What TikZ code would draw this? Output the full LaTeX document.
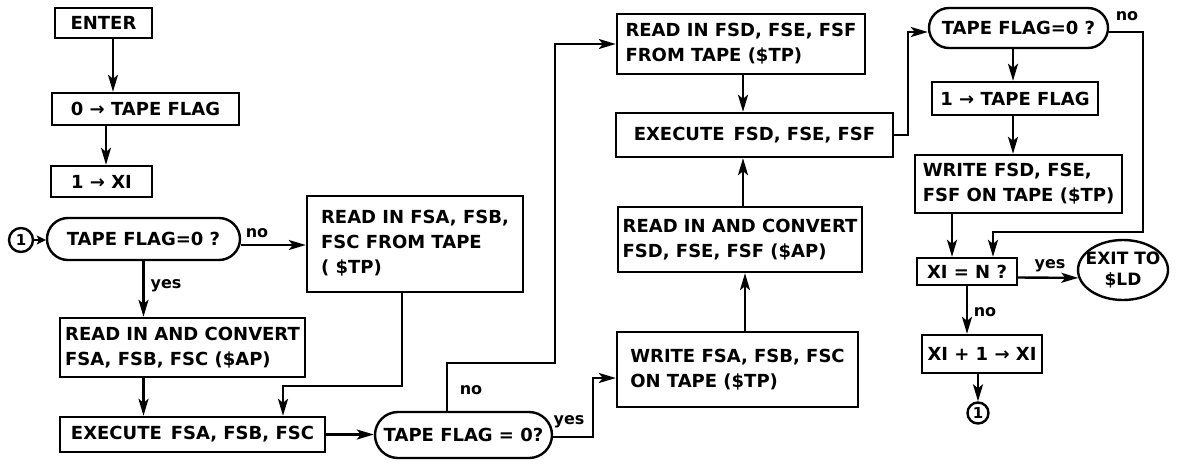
\documentclass[tikz,border=0pt]{standalone}
\usepackage{fontspec}
\setmainfont{DejaVu Sans}
\usetikzlibrary{shapes.misc,shapes.geometric,arrows.meta}
\begin{document}
\begin{tikzpicture}[x=1pt,y=-1pt,
  every node/.style={font=\bfseries\fontsize{18}{25}\selectfont},
  box/.style={draw, line width=2.4pt, inner xsep=3pt, inner ysep=0pt},
  tbox/.style={box, align=left},
  dec/.style={draw, rounded rectangle, line width=2.4pt, inner sep=0pt},
  conn/.style={draw, circle, line width=2.4pt, inner sep=0pt, font=\bfseries\fontsize{15}{15}\selectfont},
  lbl/.style={font=\bfseries\fontsize{16}{16}\selectfont, inner sep=0pt},
  arr/.style={line width=2.4pt, -{Stealth[length=17pt,width=10pt,inset=4pt]}},
  shortarr/.style={line width=2.4pt, -{Stealth[length=9pt,width=9pt,inset=2pt]}}]
\useasboundingbox (0,0) rectangle (1177,464);

% left column
\node[box, minimum width=97pt, minimum height=30pt] (enter) at (103.5,23) {ENTER};
\node[box, minimum width=187pt, minimum height=32pt] (zero) at (145.5,109) {0 → TAPE FLAG};
\node[box, minimum width=101pt, minimum height=31pt] (onexi) at (101.5,181.5) {1 → XI};
\node[dec, minimum width=193pt, minimum height=42pt] (dec1) at (143.5,239) {TAPE FLAG=0 ?};
\node[conn, minimum size=24pt] (c1) at (21,240) {1};
\node[tbox, minimum width=216pt, minimum height=96pt] (readabc) at (415,244) {\mbox{}\\[-14pt]READ IN FSA, FSB,\\FSC FROM TAPE\\( \$TP)};
\node[tbox, minimum width=245pt, minimum height=59pt] (convabc) at (182.5,347.5) {READ IN AND CONVERT\\FSA, FSB, FSC (\$AP)};
\node[box, minimum width=265pt, minimum height=35pt] (exabc) at (192.5,434.5) {EXECUTE\enspace FSA, FSB, FSC};
\node[dec, minimum width=177pt, minimum height=46pt] (dec2) at (463.5,435) {TAPE FLAG = 0?};

% middle column
\node[tbox, minimum width=248pt, minimum height=60pt] (readdef) at (741,44) {READ IN FSD, FSE, FSF\\FROM TAPE (\$TP)};
\node[box, minimum width=277pt, minimum height=44pt] (exdef) at (754.5,135) {EXECUTE\enspace FSD, FSE, FSF};
\node[tbox, minimum width=244pt, minimum height=65pt] (convdef) at (740,239.5) {READ IN AND CONVERT\\FSD, FSE, FSF (\$AP)};
\node[tbox, minimum width=241pt, minimum height=75pt] (writeabc) at (737.5,369.5) {WRITE FSA, FSB, FSC\\ON TAPE (\$TP)};

% right column
\node[dec, minimum width=179pt, minimum height=40pt] (dec3) at (1018.5,28) {TAPE FLAG=0 ?};
\node[box, minimum width=166pt, minimum height=33pt] (onetf) at (1015,98.5) {1 → TAPE FLAG};
\node[tbox, minimum width=207pt, minimum height=58pt] (writedef) at (1018.5,184) {WRITE FSD, FSE,\\FSF ON TAPE (\$TP)};
\node[box, minimum width=100pt, minimum height=27pt] (xin) at (967,271.5) {XI = N ?};
\node[draw, ellipse, line width=2.4pt, inner sep=0pt, minimum width=90pt, minimum height=60pt, align=center,
      font=\bfseries\fontsize{17}{21}\selectfont] (exit) at (1123,270) {\makebox[0pt]{EXIT TO}\\\makebox[0pt]{\$LD}};
\node[box, minimum width=120pt, minimum height=38pt] (xinc) at (982,354) {XI + 1 → XI};
\node[conn, minimum size=21pt] (c2) at (978,413) {1};

% connectors, left part
\draw[arr] ([xshift=9.5pt]enter.south) -- ([xshift=9.5pt]enter.south |- zero.north);
\draw[arr] ([xshift=4.5pt]onexi.north |- zero.south) -- ([xshift=4.5pt]onexi.north);
\draw[shortarr] (c1.east) -- (c1.east -| dec1.west);
\draw[arr] ([yshift=-6pt]dec1.east) -- ([yshift=-6pt]dec1.east -| readabc.west);
\node[lbl] (lno1) at (257,233) {no};
\draw[arr] (dec1.south) -- (dec1.south |- convabc.north);
\node[lbl] (lyes1) at (166,286) {yes};
\draw[arr] (dec1.south |- convabc.south) -- (dec1.south |- exabc.north);
\coordinate (j1) at (283,386);
\draw[arr] ([xshift=-13pt]readabc.south) |- (j1) -- (j1 |- exabc.north);
\draw[arr] (exabc.east) -- (exabc.east -| dec2.west);
\coordinate (j2) at (555,363);
\draw[arr] ([xshift=-16.5pt]dec2.north) |- (j2) |- (readdef.west);
\node[lbl] (lno2) at (471,390) {no};
\coordinate (j3) at (593,378);
\draw[arr] ([yshift=-2pt]dec2.east) -| (j3) -- (j3 -| writeabc.west);
\node[lbl] (lyes2) at (569,422) {yes};

% middle part
\draw[arr] ([xshift=7.5pt]writeabc.north) -- ([xshift=7.5pt]writeabc.north |- convdef.south);
\draw[arr] ([xshift=3pt]convdef.north) -- ([xshift=3pt]convdef.north |- exdef.south);
\draw[arr] ([xshift=2pt]readdef.south) -- ([xshift=2pt]readdef.south |- exdef.north);
\coordinate (j4) at (908,32);
\draw[arr] (exdef.east) -| (j4) -- (j4 -| dec3.west);

% right part
\draw[arr] ([xshift=-5.5pt]dec3.south) -- ([xshift=-5.5pt]dec3.south |- onetf.north);
\draw[arr] ([xshift=-2pt]onetf.south) -- ([xshift=-2pt]onetf.south |- writedef.north);
\draw[arr] ([xshift=-15pt]xin.north |- writedef.south) -- ([xshift=-15pt]xin.north);
\coordinate (j5) at (1143,232);
\draw[arr] ([yshift=-4pt]dec3.east) -| (j5) -| ([xshift=26pt]xin.north);
\node[lbl] (lno3) at (1127,16) {no};
\draw[arr] ([yshift=-6pt]xin.east) -- (exit.190);
\node[lbl] (lyes3) at (1050,266) {yes};
\draw[arr] (xin.south) -- (xin.south |- xinc.north);
\node[lbl] (lno4) at (985,312) {no};
\draw[arr] (c2.north |- xinc.south) -- (c2.north);
\end{tikzpicture}
\end{document}
